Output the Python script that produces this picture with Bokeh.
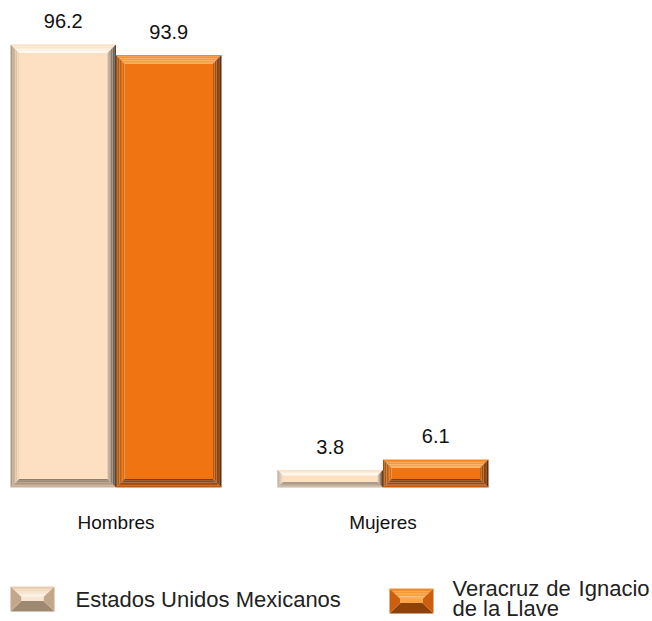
from bokeh.plotting import figure
from bokeh.embed import file_html
from bokeh.resources import INLINE
from bokeh.core.properties import value

# ---- data ----
categories = ["Hombres", "Mujeres"]
series = ["Estados Unidos Mexicanos", "Veracruz de Ignacio de la Llave"]
eum = [96.2, 3.8]
veracruz = [93.9, 6.1]
values = [eum, veracruz]
labels = [["96.2", "3.8"], ["93.9", "6.1"]]

# ---- styles ----
FACE = ["#FDE0C1", "#F07512"]
BEVEL = [
    {"top": ("#F9DDBF", "#FFFBF4"), "left": ("#A8927E", "#F6D9BA"),
     "right": ("#463830", "#D9BFA3"), "bottom": ("#D2B89C", "#8A7662")},
    {"top": ("#F3861E", "#FBAA52"), "left": ("#9C4C0A", "#E86F10"),
     "right": ("#582806", "#C65C0B"), "bottom": ("#C45C12", "#7A3807")},
]
SWATCH = [
    {"top": ("#E8C8A6", "#FFF6EA"), "side": "#C4A68A", "bottom": "#9E8872", "face": "#F8E6D2"},
    {"top": ("#EE8624", "#FBB45E"), "side": "#CC5E0E", "bottom": "#8E4208", "face": "#F9A447"},
]

W, H = 652, 621
PXX = 267.0          # px per category unit
PXY = 4.605          # px per value unit
X0 = -115.5 / PXX
X1 = X0 + W / PXX
Y0 = -(H - 487.0) / PXY
Y1 = Y0 + H / PXY
BAR_W = 105.5 / PXX
FONT = value("Liberation Sans")


def dx(px):
    return X0 + px / PXX


def dy(py):
    return Y1 - py / PXY


def hexmix(c1, c2, t):
    a = [int(c1[i:i + 2], 16) for i in (1, 3, 5)]
    b = [int(c2[i:i + 2], 16) for i in (1, 3, 5)]
    return "#%02x%02x%02x" % tuple(int(round(a[k] + (b[k] - a[k]) * t)) for k in range(3))


p = figure(width=W, height=H, x_range=(X0, X1), y_range=(Y0, Y1),
           output_backend="svg", toolbar_location=None,
           x_axis_type=None, y_axis_type=None, min_border=0)
p.grid.visible = False
p.outline_line_color = None
p.background_fill_color = "white"
p.border_fill_color = "white"

xs_all, ys_all, cols_all = [], [], []


def bevel_rect(L, R, B, T, b_px, spec, face, n=5):
    bx = b_px / PXX
    by = b_px / PXY
    xs_all.append([L + bx, R - bx, R - bx, L + bx])
    ys_all.append([B + by, B + by, T - by, T - by])
    cols_all.append(face)
    for k in range(n):
        o, i = k / n, (k + 1) / n
        t = (k + 0.5) / n
        xs_all.append([L + bx * o, R - bx * o, R - bx * i, L + bx * i])
        ys_all.append([T - by * o, T - by * o, T - by * i, T - by * i])
        cols_all.append(hexmix(spec["top"][0], spec["top"][1], t))
        xs_all.append([L + bx * o, R - bx * o, R - bx * i, L + bx * i])
        ys_all.append([B + by * o, B + by * o, B + by * i, B + by * i])
        cols_all.append(hexmix(spec["bottom"][0], spec["bottom"][1], t))
        xs_all.append([L + bx * o, L + bx * i, L + bx * i, L + bx * o])
        ys_all.append([B + by * o, B + by * i, T - by * i, T - by * o])
        cols_all.append(hexmix(spec["left"][0], spec["left"][1], t))
        xs_all.append([R - bx * o, R - bx * i, R - bx * i, R - bx * o])
        ys_all.append([B + by * o, B + by * i, T - by * i, T - by * o])
        cols_all.append(hexmix(spec["right"][0], spec["right"][1], t))


lab_x, lab_y, lab_t = [], [], []
for s, vals in enumerate(values):
    for g, v in enumerate(vals):
        L = g - BAR_W + s * BAR_W
        R = L + BAR_W
        h_px = v * PXY
        b_px = min(8.5, h_px * 0.3)
        bevel_rect(L, R, 0.0, v, b_px, BEVEL[s], FACE[s])
        lab_x.append((L + R) / 2)
        lab_y.append(v + 23.5 / PXY)
        lab_t.append(labels[s][g])

p.patches(xs=xs_all, ys=ys_all, fill_color=cols_all, line_color=None)

p.text(x=lab_x, y=lab_y, text=lab_t, text_font=FONT,
       text_font_size="20px", text_align="center", text_baseline="alphabetic",
       text_color="#111111")

p.text(x=[0, 1], y=[dy(522)] * 2, text=categories, text_font=FONT,
       text_font_size="19px", text_align="center", text_baseline="alphabetic",
       text_color="#111111")

sx, sy, sc = [], [], []
for s, (l, r, t, b) in enumerate([(10, 54, 586, 611), (389, 433, 588, 613)]):
    L, R, T, B = dx(l), dx(r), dy(t), dy(b)
    sp = SWATCH[s]
    bx = 11 / PXX
    by = 10.5 / PXY
    n = 4
    for k in range(n):
        o, i = k / n, (k + 1) / n
        sx.append([L + bx * o, R - bx * o, R - bx * i, L + bx * i])
        sy.append([T - by * o, T - by * o, T - by * i, T - by * i])
        sc.append(hexmix(sp["top"][0], sp["top"][1], (k + 0.5) / n))
    sx.append([L, R, R - bx, L + bx])
    sy.append([B, B, B + by, B + by])
    sc.append(sp["bottom"])
    sx.append([L, L + bx, L + bx, L])
    sy.append([B, B + by, T - by, T])
    sc.append(sp["side"])
    sx.append([R, R - bx, R - bx, R])
    sy.append([B, B + by, T - by, T])
    sc.append(sp["side"])
    sx.append([L + bx, R - bx, R - bx, L + bx])
    sy.append([B + by, B + by, T - by, T - by])
    sc.append(sp["face"])
p.patches(xs=sx, ys=sy, fill_color=sc, line_color=None)

# legend texts (second label is justified over two lines, as in the original)
leg_words = series[1].split(" ")   # Veracruz de Ignacio de la Llave
p.text(x=[dx(75)], y=[dy(599)], text=[series[0]], text_font=FONT,
       text_font_size="22px", text_align="left", text_baseline="alphabetic",
       text_color="#222222")
p.text(x=[dx(452), dx(558), dx(649)], y=[dy(588)] * 3,
       text=leg_words[:3], text_font=FONT,
       text_font_size="22px", text_align=["left", "center", "right"],
       text_baseline="alphabetic", text_color="#222222")
p.text(x=[dx(452)], y=[dy(608)], text=[" ".join(leg_words[3:])], text_font=FONT,
       text_font_size="22px", text_align="left", text_baseline="alphabetic",
       text_color="#222222")

open("out.html", "w").write(file_html(p, INLINE))
